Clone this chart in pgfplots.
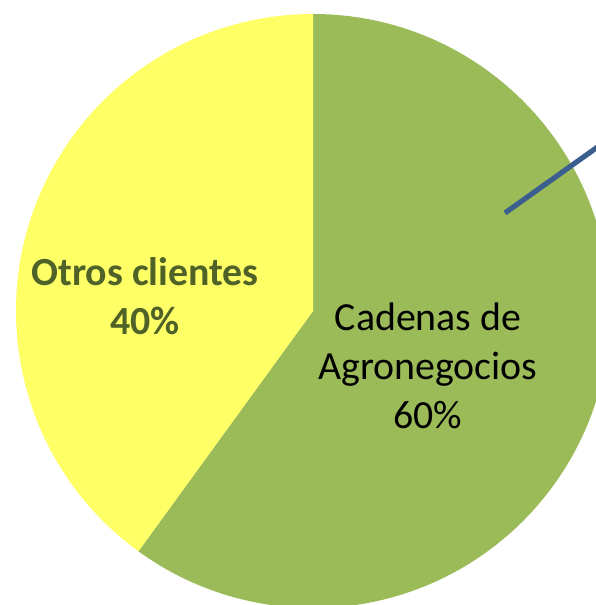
\documentclass[border=0pt]{standalone}
\usepackage{pgfplots}
\usepackage{pgfplotstable}
\pgfplotsset{compat=1.18}
\usepackage{fontspec}
\setmainfont{Carlito}
\definecolor{pgreen}{HTML}{9BBB59}
\definecolor{pyellow}{HTML}{FFFF66}
\definecolor{polive}{HTML}{4F6228}
\definecolor{lineblue}{HTML}{3A5F8F}
\pgfplotstableread{
label value
Agronegocios 60
Otros 40
}\piedata
\begin{document}
\begin{tikzpicture}
\pgfplotstablegetelem{0}{value}\of\piedata
\pgfmathsetmacro\angA{90-3.6*\pgfplotsretval}
\pgfplotstablegetelem{1}{value}\of\piedata
\pgfmathsetmacro\angB{\angA-3.6*\pgfplotsretval}
\begin{axis}[width=298bp,height=302.5bp,scale only axis,
  xmin=0,xmax=596,ymin=0,ymax=605,hide axis,clip=true]
\fill[pgreen] (axis cs:313,294) -- (axis cs:313,591) arc[start angle=90,end angle=\angA,radius=148.5bp] -- cycle;
\fill[pyellow] (axis cs:313,294) -- ++(\angA:148.5bp) arc[start angle=\angA,end angle=\angB,radius=148.5bp] -- cycle;
\draw[lineblue,line width=2.6bp] (axis cs:505,392) -- (axis cs:620,474);
\node[font=\fontsize{20}{24.5}\selectfont\bfseries,text=polive,align=center] at (axis cs:145,309) {Otros clientes\\40\%};
\node[font=\fontsize{20}{24.5}\selectfont,text=black,align=center] at (axis cs:428,239) {Cadenas de\\Agronegocios\\60\%};
\end{axis}
\pgfresetboundingbox
\useasboundingbox (current axis.south west) rectangle (current axis.north east);
\end{tikzpicture}
\end{document}
